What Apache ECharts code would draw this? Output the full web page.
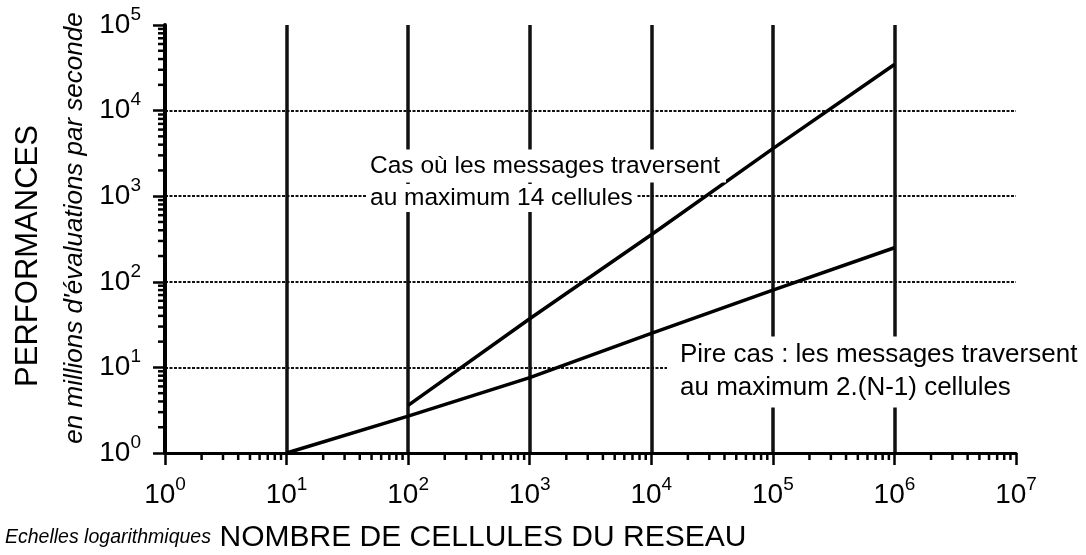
<!DOCTYPE html>
<html>
<head>
<meta charset="utf-8">
<script src="https://cdn.jsdelivr.net/npm/echarts@6/dist/echarts.min.js"></script>
<style>
  html, body { margin: 0; padding: 0; background: #fff; }
  #chart { width: 1086px; height: 555px; }
</style>
</head>
<body>
<div id="chart"></div>
<script>
// Network size (number of cells) and performance, in millions of evaluations per second
const cellsWorst = [10, 100, 1000, 10000, 100000, 1000000];
const perfWorst = [1, 2.7, 7.6, 25, 80, 250];          // messages cross at most 2.(N-1) cells
const cellsMax14 = [100, 1000, 10000, 100000, 1000000];
const perfMax14 = [3.6, 37, 355, 3600, 34500];         // messages cross at most 14 cells

// Decades shown on each logarithmic axis, and the minor tick multipliers inside a decade
const xDecades = [0, 1, 2, 3, 4, 5, 6, 7];
const yDecades = [0, 1, 2, 3, 4, 5];
const minorSteps = [2, 3, 4, 5, 6, 7, 8, 9];

const FONT = '"Liberation Sans", Arial, Helvetica, sans-serif';

const xMin = Math.pow(10, xDecades[0]), xMax = Math.pow(10, xDecades[xDecades.length - 1]);
const yMin = Math.pow(10, yDecades[0]), yMax = Math.pow(10, yDecades[yDecades.length - 1]);

function minorValues(decades) {
  const out = [];
  for (let i = 0; i < decades.length - 1; i++) {
    minorSteps.forEach(m => out.push(m * Math.pow(10, decades[i])));
  }
  return out;
}
const xMinor = minorValues(xDecades);
const yMinor = minorValues(yDecades);

// "10" followed by a raised exponent
function powerLabel(v) {
  const e = Math.round(Math.log10(v));
  return '{b|10}{s|' + e + '}';
}
const powerRich = {
  b: { fontFamily: FONT, fontSize: 28, lineHeight: 40, color: '#000', verticalAlign: 'middle' },
  s: { fontFamily: FONT, fontSize: 19, lineHeight: 20, color: '#000', verticalAlign: 'top' }
};

const chart = echarts.init(document.getElementById('chart'), null, { renderer: 'canvas' });

chart.setOption({
  backgroundColor: '#fff',
  animation: false,
  grid: { left: 165, right: 70, top: 25, bottom: 102, containLabel: false },
  xAxis: {
    type: 'log', logBase: 10, min: xMin, max: xMax, splitNumber: 7,
    axisLine: { onZero: false, lineStyle: { color: '#000', width: 3 } },
    axisTick: { length: 12, lineStyle: { color: '#000', width: 2.5 } },
    axisLabel: { margin: 22, formatter: powerLabel, rich: powerRich },
    splitLine: {
      show: true, showMinLine: false, showMaxLine: false,
      lineStyle: { color: '#111', width: 3.5 }
    }
  },
  yAxis: {
    type: 'log', logBase: 10, min: yMin, max: yMax, splitNumber: 5,
    axisLine: { onZero: false, lineStyle: { color: '#000', width: 4 } },
    axisTick: { length: 12, lineStyle: { color: '#000', width: 2.5 } },
    axisLabel: { margin: 24, formatter: powerLabel, rich: powerRich },
    splitLine: {
      show: true, showMinLine: false, showMaxLine: false,
      lineStyle: { color: '#111', width: 2, type: [3, 1.5] }
    }
  },
  series: [
    {
      name: 'Pire cas', type: 'line', symbol: 'none', z: 5,
      data: cellsWorst.map((n, i) => [n, perfWorst[i]]),
      lineStyle: { color: '#000', width: 3.5 }
    },
    {
      name: 'Maximum 14 cellules', type: 'line', symbol: 'none', z: 5,
      data: cellsMax14.map((n, i) => [n, perfMax14[i]]),
      lineStyle: { color: '#000', width: 3.5 }
    },
    {
      // minor ticks below the horizontal axis
      type: 'custom', silent: true, clip: false, z: 6,
      data: xMinor.map(v => [v, yMin]),
      renderItem: (params, api) => {
        const p = api.coord([api.value(0), api.value(1)]);
        return { type: 'line', shape: { x1: p[0], y1: p[1], x2: p[0], y2: p[1] + 7 },
                 style: { stroke: '#000', lineWidth: 2.5 } };
      }
    },
    {
      // minor ticks left of the vertical axis
      type: 'custom', silent: true, clip: false, z: 6,
      data: yMinor.map(v => [xMin, v]),
      renderItem: (params, api) => {
        const p = api.coord([api.value(0), api.value(1)]);
        return { type: 'line', shape: { x1: p[0], y1: p[1], x2: p[0] - 7, y2: p[1] },
                 style: { stroke: '#000', lineWidth: 2.5 } };
      }
    }
  ],
  graphic: [
    {
      type: 'text', z: 100, x: 28, y: 256, rotation: Math.PI / 2,
      style: { text: 'PERFORMANCES', font: '31px ' + FONT, fill: '#000',
               align: 'center', verticalAlign: 'middle' }
    },
    {
      type: 'text', z: 100, x: 75, y: 228, rotation: Math.PI / 2,
      style: { text: "en millions d'évaluations par seconde", font: 'italic 26px ' + FONT, fill: '#000',
               align: 'center', verticalAlign: 'middle' }
    },
    {
      type: 'text', z: 100, x: 5, y: 538,
      style: { text: 'Echelles logarithmiques', font: 'italic 19.5px ' + FONT, fill: '#000',
               align: 'left', verticalAlign: 'middle' }
    },
    {
      type: 'text', z: 100, x: 483, y: 538,
      style: { text: 'NOMBRE DE CELLULES DU RESEAU', font: '30px ' + FONT, fill: '#000',
               align: 'center', verticalAlign: 'middle' }
    },
    {
      type: 'text', z: 100, x: 366, y: 166,
      style: { text: 'Cas où les messages traversent', font: '24.5px ' + FONT, fill: '#000',
               align: 'left', verticalAlign: 'middle',
               backgroundColor: '#fff', padding: [4, 6, 4, 4] }
    },
    {
      type: 'text', z: 100, x: 366, y: 198,
      style: { text: 'au maximum 14 cellules', font: '24.5px ' + FONT, fill: '#000',
               align: 'left', verticalAlign: 'middle',
               backgroundColor: '#fff', padding: [3, 4, 0, 4] }
    },
    {
      type: 'text', z: 100, x: 667, y: 355,
      style: { text: 'Pire cas : les messages traversent', font: '26px ' + FONT, fill: '#000',
               align: 'left', verticalAlign: 'middle',
               backgroundColor: '#fff', padding: [7, 2, 4, 13] }
    },
    {
      type: 'text', z: 100, x: 667, y: 388,
      style: { text: 'au maximum 2.(N-1) cellules', font: '26px ' + FONT, fill: '#000',
               align: 'left', verticalAlign: 'middle',
               backgroundColor: '#fff', padding: [3, 4, 10, 13] }
    }
  ]
});
</script>
</body>
</html>
